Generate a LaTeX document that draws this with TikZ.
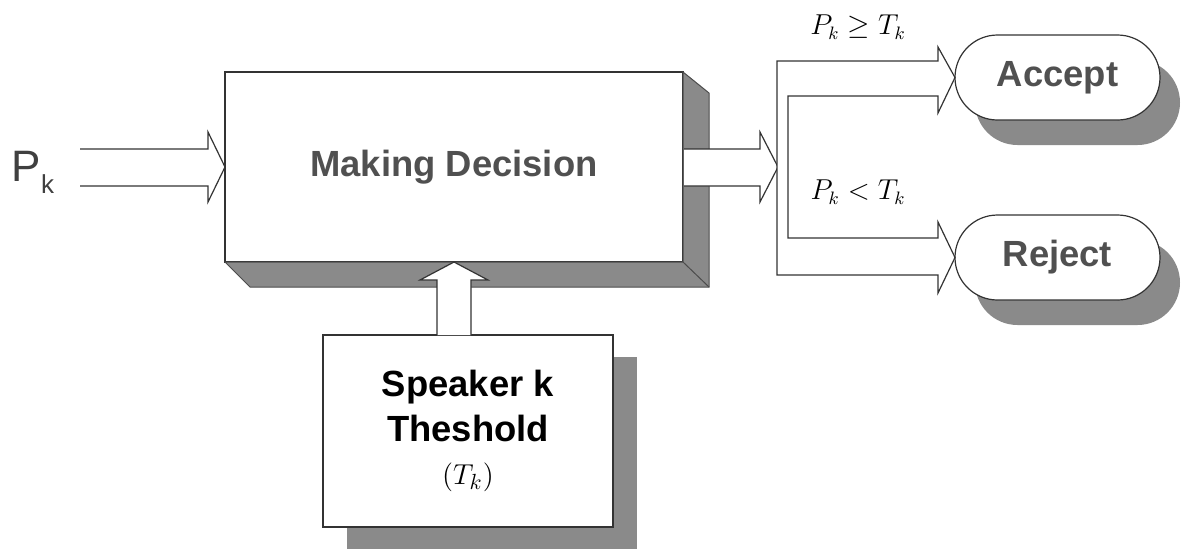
\documentclass[tikz,border=0pt]{standalone}
\usepackage{fontspec}
\setmainfont{Liberation Sans}
\definecolor{shadegray}{RGB}{138,138,138}
\definecolor{ink}{RGB}{80,80,80}
\tikzset{
  blk/.style={draw=black!80,fill=white,line width=0.6pt,outer sep=0pt},
  big/.style={font=\fontsize{18.2}{22.5}\selectfont\bfseries},
  pill/.style={blk,big,text=ink,rounded corners=21.25pt,minimum width=102.5pt,minimum height=42.5pt},
  cond/.style={font=\fontsize{13.5}{15}\selectfont}
}
\begin{document}
\begin{tikzpicture}[x=0.5pt,y=-0.5pt]
		\useasboundingbox (0,0) rectangle (1195,548);
		\node[blk,big,text=ink,minimum width=229pt,minimum height=95pt] (dec) at (454,167) {Making Decision};
		\draw[fill=shadegray,draw=black!70,line width=0.5pt] (dec.north east) -- ++(26,21) -- (709,287) -- (250,287) -- (dec.south west) -- (dec.south east) -- cycle;\draw[black!70,line width=0.5pt] (dec.south east) -- (709,287);
		\node[text=black!75] (pk) at (33,172) {\fontsize{22}{22}\selectfont P\raisebox{-6pt}{\fontsize{13}{13}\selectfont k}};
		\draw[blk] (80,149) -- (208,149) -- (208,132) -- (dec.west) -- (208,202) -- (208,186) -- (80,186);
		\draw[blk] (684,149) -- (760,149) -- (760,132) -- (778,167) -- (760,202) -- (760,186) -- (684,186);
		\node[pill,fill=shadegray,draw=none] (accs) at (1077.5,102.5) {};\node[pill] (acc) at (1057.5,77.5) {Accept};
		\node[pill,fill=shadegray,draw=none] (rejs) at (1077.5,282.5) {};\node[pill] (rej) at (1057.5,257.5) {Reject};
		\draw[blk] (acc.west) -- (938,47) -- (938,61) -- (777,61) -- (777,275) -- (938,275) -- (938,293) -- (rej.west) -- (938,222) -- (938,238) -- (788,238) -- (788,96) -- (938,96) -- (938,113) -- cycle;
		\node[cond] (ge) at (858,27) {$P_k\geq T_k$};\node[cond] (lt) at (858,192) {$P_k<T_k$};
		\fill[shadegray] (347,357) rectangle (637,549);
		\node[blk,big,align=center,minimum width=145pt,minimum height=96pt] (spk) at (468,431) {Speaker k\\Theshold\\[-1pt]{\normalfont\fontsize{15}{17}\selectfont$(T_k)$}};
		\draw[blk] (437,335) -- (437,280) -- (420,280) -- (dec.south) -- (488,280) -- (471,280) -- (471,335);
	\end{tikzpicture}
\end{document}
